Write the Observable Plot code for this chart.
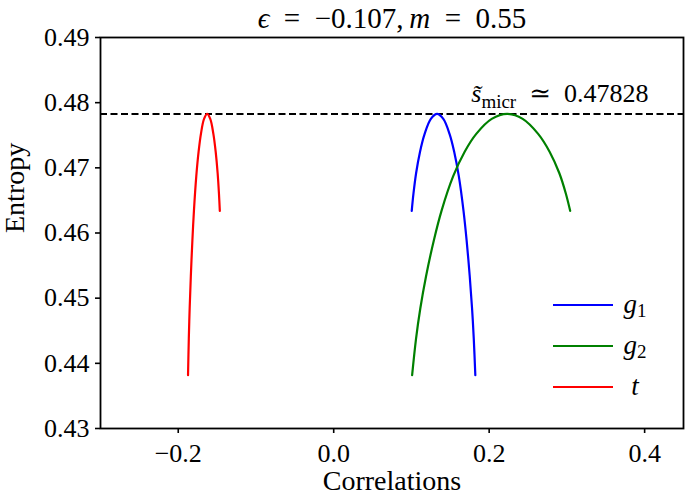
<!DOCTYPE html>
<html>
<head>
<meta charset="utf-8">
<script src="https://cdn.jsdelivr.net/npm/d3@7"></script>
<script src="https://cdn.jsdelivr.net/npm/@observablehq/plot@0.6"></script>
<style>
  html, body { margin: 0; padding: 0; background: #ffffff; }
  #chart { width: 685px; height: 499px; }
  #chart svg { display: block; }
</style>
</head>
<body>
<div id="chart"></div>
<script>
// ---- data ----
const epsilonLabel = "\u22120.107";
const mLabel = "0.55";
const sMicr = 0.47828;

// entropy values shared by the three curves (sampled along each curve)
const entropy = [0.43818, 0.44375, 0.44841, 0.45336, 0.45886, 0.4634, 0.46868, 0.47247, 0.47521, 0.47751, 0.47828, 0.47751, 0.47521, 0.47244, 0.46917, 0.46603, 0.4634];
// correlation values of each curve at those points
const corrG1 = [0.1822, 0.1802, 0.178, 0.175, 0.171, 0.167, 0.161, 0.155, 0.149, 0.141, 0.133, 0.125, 0.117, 0.111, 0.106, 0.1026, 0.1004];
const corrG2 = [0.1009, 0.1059, 0.1114, 0.1188, 0.1288, 0.1387, 0.1536, 0.1685, 0.1834, 0.2033, 0.2232, 0.2431, 0.263, 0.2779, 0.2903, 0.2987, 0.3042];
const corrT  = [-0.1874, -0.1864, -0.1853, -0.1838, -0.1818, -0.1798, -0.1768, -0.1738, -0.1708, -0.1668, -0.1628, -0.1588, -0.1548, -0.1518, -0.1493, -0.1476, -0.1465];

const seriesNames = ["g1", "g2", "t"];
const seriesColors = ["#0000ff", "#008000", "#ff0000"];
const legendLabels = [["g", "1"], ["g", "2"], ["t", ""]];

const xTicks = [-0.2, 0.0, 0.2, 0.4];
const yTicks = [0.43, 0.44, 0.45, 0.46, 0.47, 0.48, 0.49];
const xDomain = [-0.3, 0.45];
const yDomain = [0.43, 0.49];

// ---- build table ----
const rows = [];
[corrG1, corrG2, corrT].forEach((arr, k) => {
  arr.forEach((c, i) => rows.push({series: seriesNames[k], corr: c, s: entropy[i]}));
});

const W = 685, H = 499;
const M = {left: 100, right: 2, top: 37, bottom: 71};
const font = "'Liberation Serif', 'DejaVu Serif', serif";

const plot = Plot.plot({
  width: W, height: H,
  marginLeft: M.left, marginRight: M.right, marginTop: M.top, marginBottom: M.bottom,
  style: {fontFamily: font, fontSize: "26px", background: "#ffffff", color: "#000000", overflow: "visible"},
  x: {domain: xDomain},
  y: {domain: yDomain},
  color: {domain: seriesNames, range: seriesColors},
  marks: [
    Plot.ruleY([sMicr], {stroke: "#000000", strokeWidth: 2, strokeDasharray: "7,3.5"}),
    Plot.line(rows, {x: "corr", y: "s", z: "series", stroke: "series", strokeWidth: 2.2, curve: "catmull-rom"}),
    Plot.frame({stroke: "#000000", strokeWidth: 1.8}),
    Plot.axisX({ticks: xTicks, tickSize: 5, tickPadding: 10, strokeWidth: 1.6,
      tickFormat: d => d.toFixed(1).replace("-", "\u2212"), label: null, fontSize: 26}),
    Plot.axisY({ticks: yTicks, tickSize: 5, tickPadding: 6, strokeWidth: 1.6,
      tickFormat: d => d.toFixed(2), label: null, fontSize: 26}),
    Plot.text(["Correlations"], {frameAnchor: "bottom", lineAnchor: "middle", dy: 53, text: d => d, fontSize: 28}),
    Plot.text(["Entropy"], {frameAnchor: "left", lineAnchor: "middle", rotate: -90, dx: -85, text: d => d, fontSize: 28}),
    Plot.text(["@title"], {frameAnchor: "top", lineAnchor: "middle", dy: -19, text: d => d, fontSize: 29}),
    Plot.text(["@smicr"], {frameAnchor: "right", lineAnchor: "middle", y: () => sMicr, dx: -35, dy: -20, textAnchor: "end", text: d => d, fontSize: 26})
  ]
});

document.getElementById("chart").appendChild(plot);
const svg = d3.select(plot);
const findText = key => svg.selectAll("text").filter(function() { return this.textContent === key; });

// title with italic symbols
const t = findText("@title");
t.text(null);
t.append("tspan").attr("font-style", "italic").text("\u03F5");
t.append("tspan").text("\u2002=\u2002" + epsilonLabel + ",\u2009");
t.append("tspan").attr("font-style", "italic").text("m");
t.append("tspan").text("\u2002=\u2002" + mLabel);

// s~_micr annotation
const a = findText("@smicr");
a.text(null);
a.append("tspan").attr("font-style", "italic").text("s\u0303");
a.append("tspan").attr("font-size", 19).attr("dy", 6).text("micr");
a.append("tspan").attr("dy", -6).text("\u2002\u2243\u2002" + String(sMicr));

// legend (inside lower-right of frame)
const frameRight = W - M.right, frameBottom = H - M.bottom;
const lg = svg.append("g").attr("font-family", font);
seriesNames.forEach((name, i) => {
  const yy = frameBottom - 123 + i * 41;
  lg.append("line")
    .attr("x1", frameRight - 130).attr("x2", frameRight - 70)
    .attr("y1", yy).attr("y2", yy)
    .attr("stroke", seriesColors[i]).attr("stroke-width", 2.2);
  const tx = lg.append("text").attr("x", frameRight - 48).attr("y", yy + 8).attr("font-size", 27);
  tx.append("tspan").attr("font-style", "italic").text(legendLabels[i][0]);
  if (legendLabels[i][1]) tx.append("tspan").attr("font-size", 19).attr("dy", 4).text(legendLabels[i][1]);
});
</script>
</body>
</html>
